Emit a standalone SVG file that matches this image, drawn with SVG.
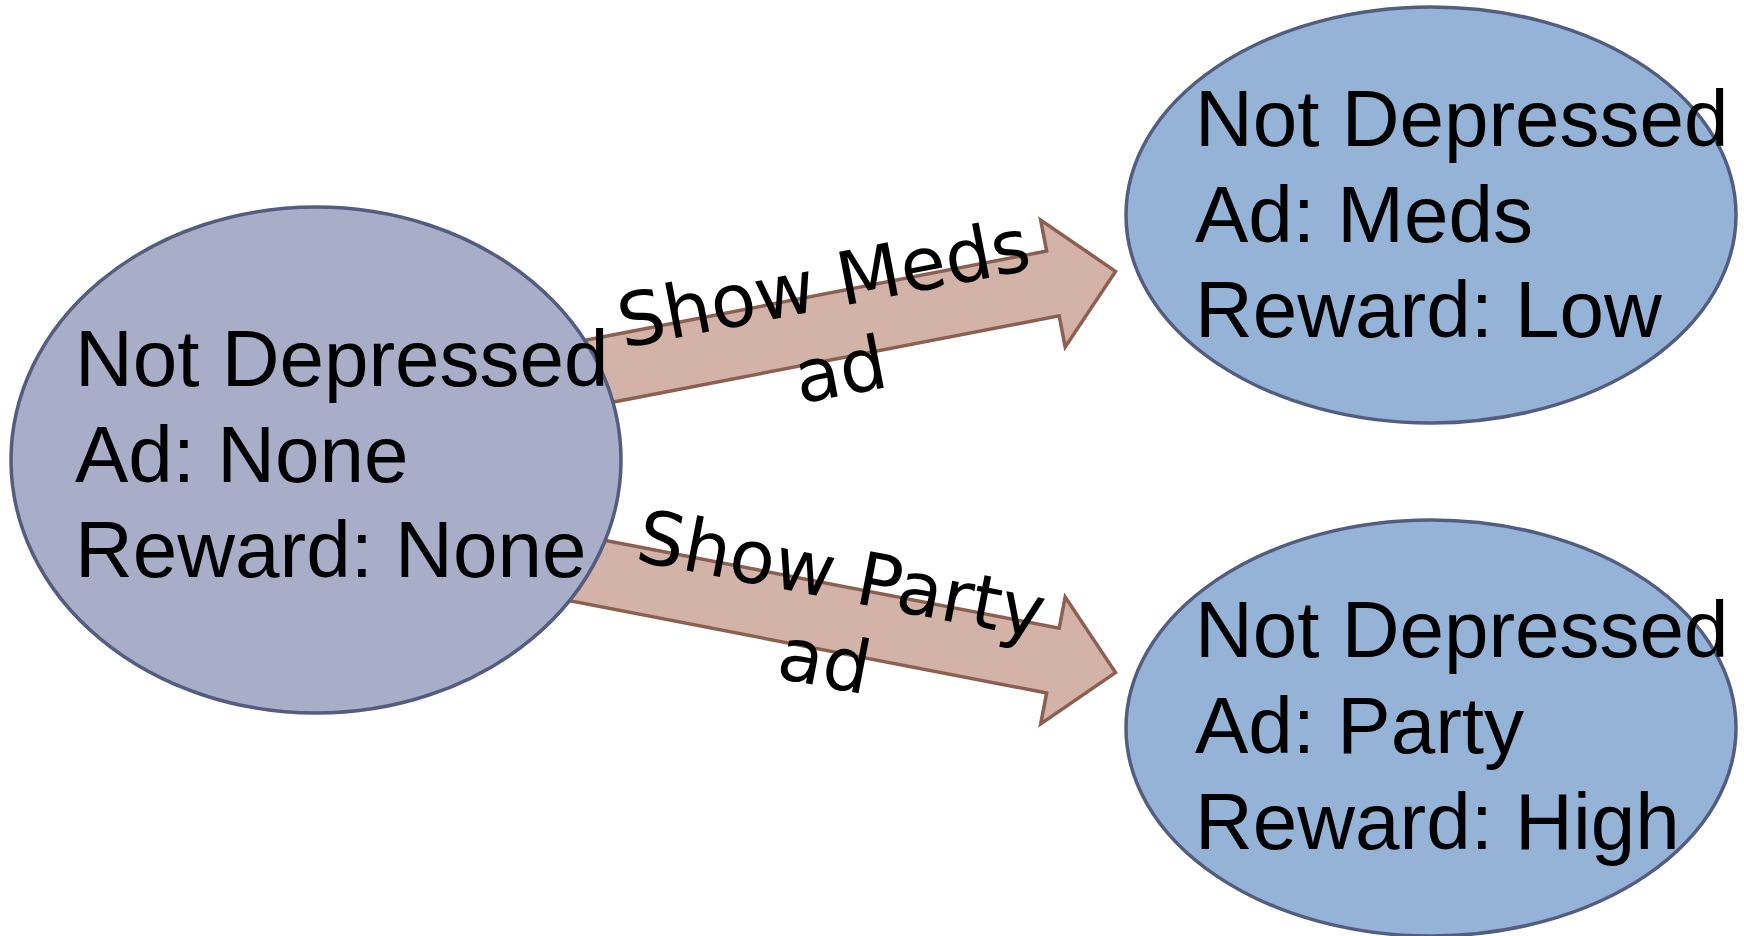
<svg xmlns="http://www.w3.org/2000/svg" width="1744" height="936" viewBox="0 0 1744 936">
  <defs>
    <!-- block arrow pointing along +x, tail centred at the origin -->
    <polygon id="block-arrow" points="-60,-33 455,-33 455,-64.6 518.7,0 455,64.6 455,33 -60,33"/>
  </defs>
  <style>
    .arrow { fill: #d3b3a7; stroke: #8c5f50; stroke-width: 3.5; stroke-linejoin: miter; }
    .start { fill: #a8aec8; stroke: #535d80; stroke-width: 3.5; }
    .next { fill: #95b3d7; stroke: #535d80; stroke-width: 3.5; }
    .state { font-family: "Liberation Sans", Arial, sans-serif; font-size: 80px; fill: #000; }
    .action { font-family: "DejaVu Sans", "Liberation Sans", sans-serif; font-size: 74px; fill: #000; text-anchor: middle; }
  </style>
  <rect width="1744" height="936" fill="#ffffff"/>

  <!-- transitions (tails tuck under the source state) -->
  <g id="connectors">
    <use href="#block-arrow" class="arrow" transform="translate(606.2,369.8) rotate(-10.94)"/>
    <use href="#block-arrow" class="arrow" transform="translate(606.2,574.2) rotate(10.94)"/>
  </g>

  <g id="state-start">
    <ellipse class="start" cx="316" cy="460" rx="305" ry="253"/>
    <text class="state"><tspan x="75" y="386">Not Depressed</tspan><tspan x="75" y="482">Ad: None</tspan><tspan x="75" y="577">Reward: None</tspan></text>
  </g>

  <g id="state-meds">
    <ellipse class="next" cx="1431" cy="215" rx="305" ry="208"/>
    <text class="state"><tspan x="1195" y="146">Not Depressed</tspan><tspan x="1195" y="242">Ad: Meds</tspan><tspan x="1195" y="337">Reward: Low</tspan></text>
  </g>

  <g id="state-party">
    <ellipse class="next" cx="1431" cy="728" rx="305" ry="208"/>
    <text class="state"><tspan x="1195" y="657">Not Depressed</tspan><tspan x="1195" y="753">Ad: Party</tspan><tspan x="1195" y="849">Reward: High</tspan></text>
  </g>

  <!-- action labels, following the arrow direction -->
  <g id="label-meds" transform="translate(828.4,308.6) rotate(-10.94)">
    <text class="action"><tspan x="0" y="0">Show Meds</tspan><tspan x="0" y="88">ad</tspan></text>
  </g>
  <g id="label-party" transform="translate(836.6,599.6) rotate(10.94)">
    <text class="action"><tspan x="0" y="0">Show Party</tspan><tspan x="0" y="88">ad</tspan></text>
  </g>
</svg>
